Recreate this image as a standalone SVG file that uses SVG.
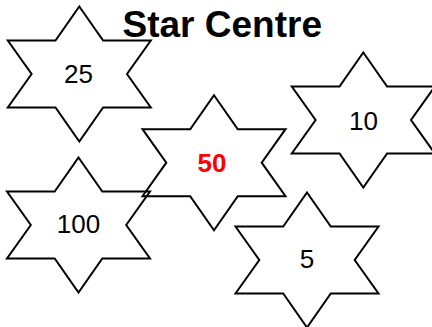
<svg xmlns="http://www.w3.org/2000/svg" xmlns:xlink="http://www.w3.org/1999/xlink" width="432" height="327" viewBox="0 0 432 327">
<style>
.star{fill:none;stroke:#000;stroke-width:2;stroke-linejoin:miter}
.num{font-family:"Liberation Sans",Arial,sans-serif;font-size:26px;text-anchor:middle;fill:#000}
.hot{font-weight:bold;fill:#ff0000}
.title{font-family:"Liberation Sans",Arial,sans-serif;font-size:37px;font-weight:bold;fill:#000}
</style>
<defs>
<polygon id="star" class="star" points="0,-67.5 23.8,-33.5 71.5,-33.5 47.7,0 71.5,33.5 23.8,33.5 0,67.5 -23.8,33.5 -71.5,33.5 -47.7,0 -71.5,-33.5 -23.8,-33.5"/>
</defs>
<rect width="432" height="327" fill="#fff"/>
<g id="node-25">
<use href="#star" xlink:href="#star" transform="translate(79.3,74)"/>
<text class="num" x="78.5" y="83.3">25</text>
</g>
<g id="node-10">
<use href="#star" xlink:href="#star" transform="translate(363.3,120)"/>
<text class="num" x="363.5" y="130">10</text>
</g>
<g id="node-50">
<use href="#star" xlink:href="#star" transform="translate(214,162.7)"/>
<text class="num hot" x="212" y="172.3">50</text>
</g>
<g id="node-100">
<use href="#star" xlink:href="#star" transform="translate(78.5,225)"/>
<text class="num" x="78.5" y="233.3">100</text>
</g>
<g id="node-5">
<use href="#star" xlink:href="#star" transform="translate(307,260)"/>
<text class="num" x="307" y="268.3">5</text>
</g>
<text id="title" class="title" x="122.5" y="37">Star Centre</text>
</svg>
